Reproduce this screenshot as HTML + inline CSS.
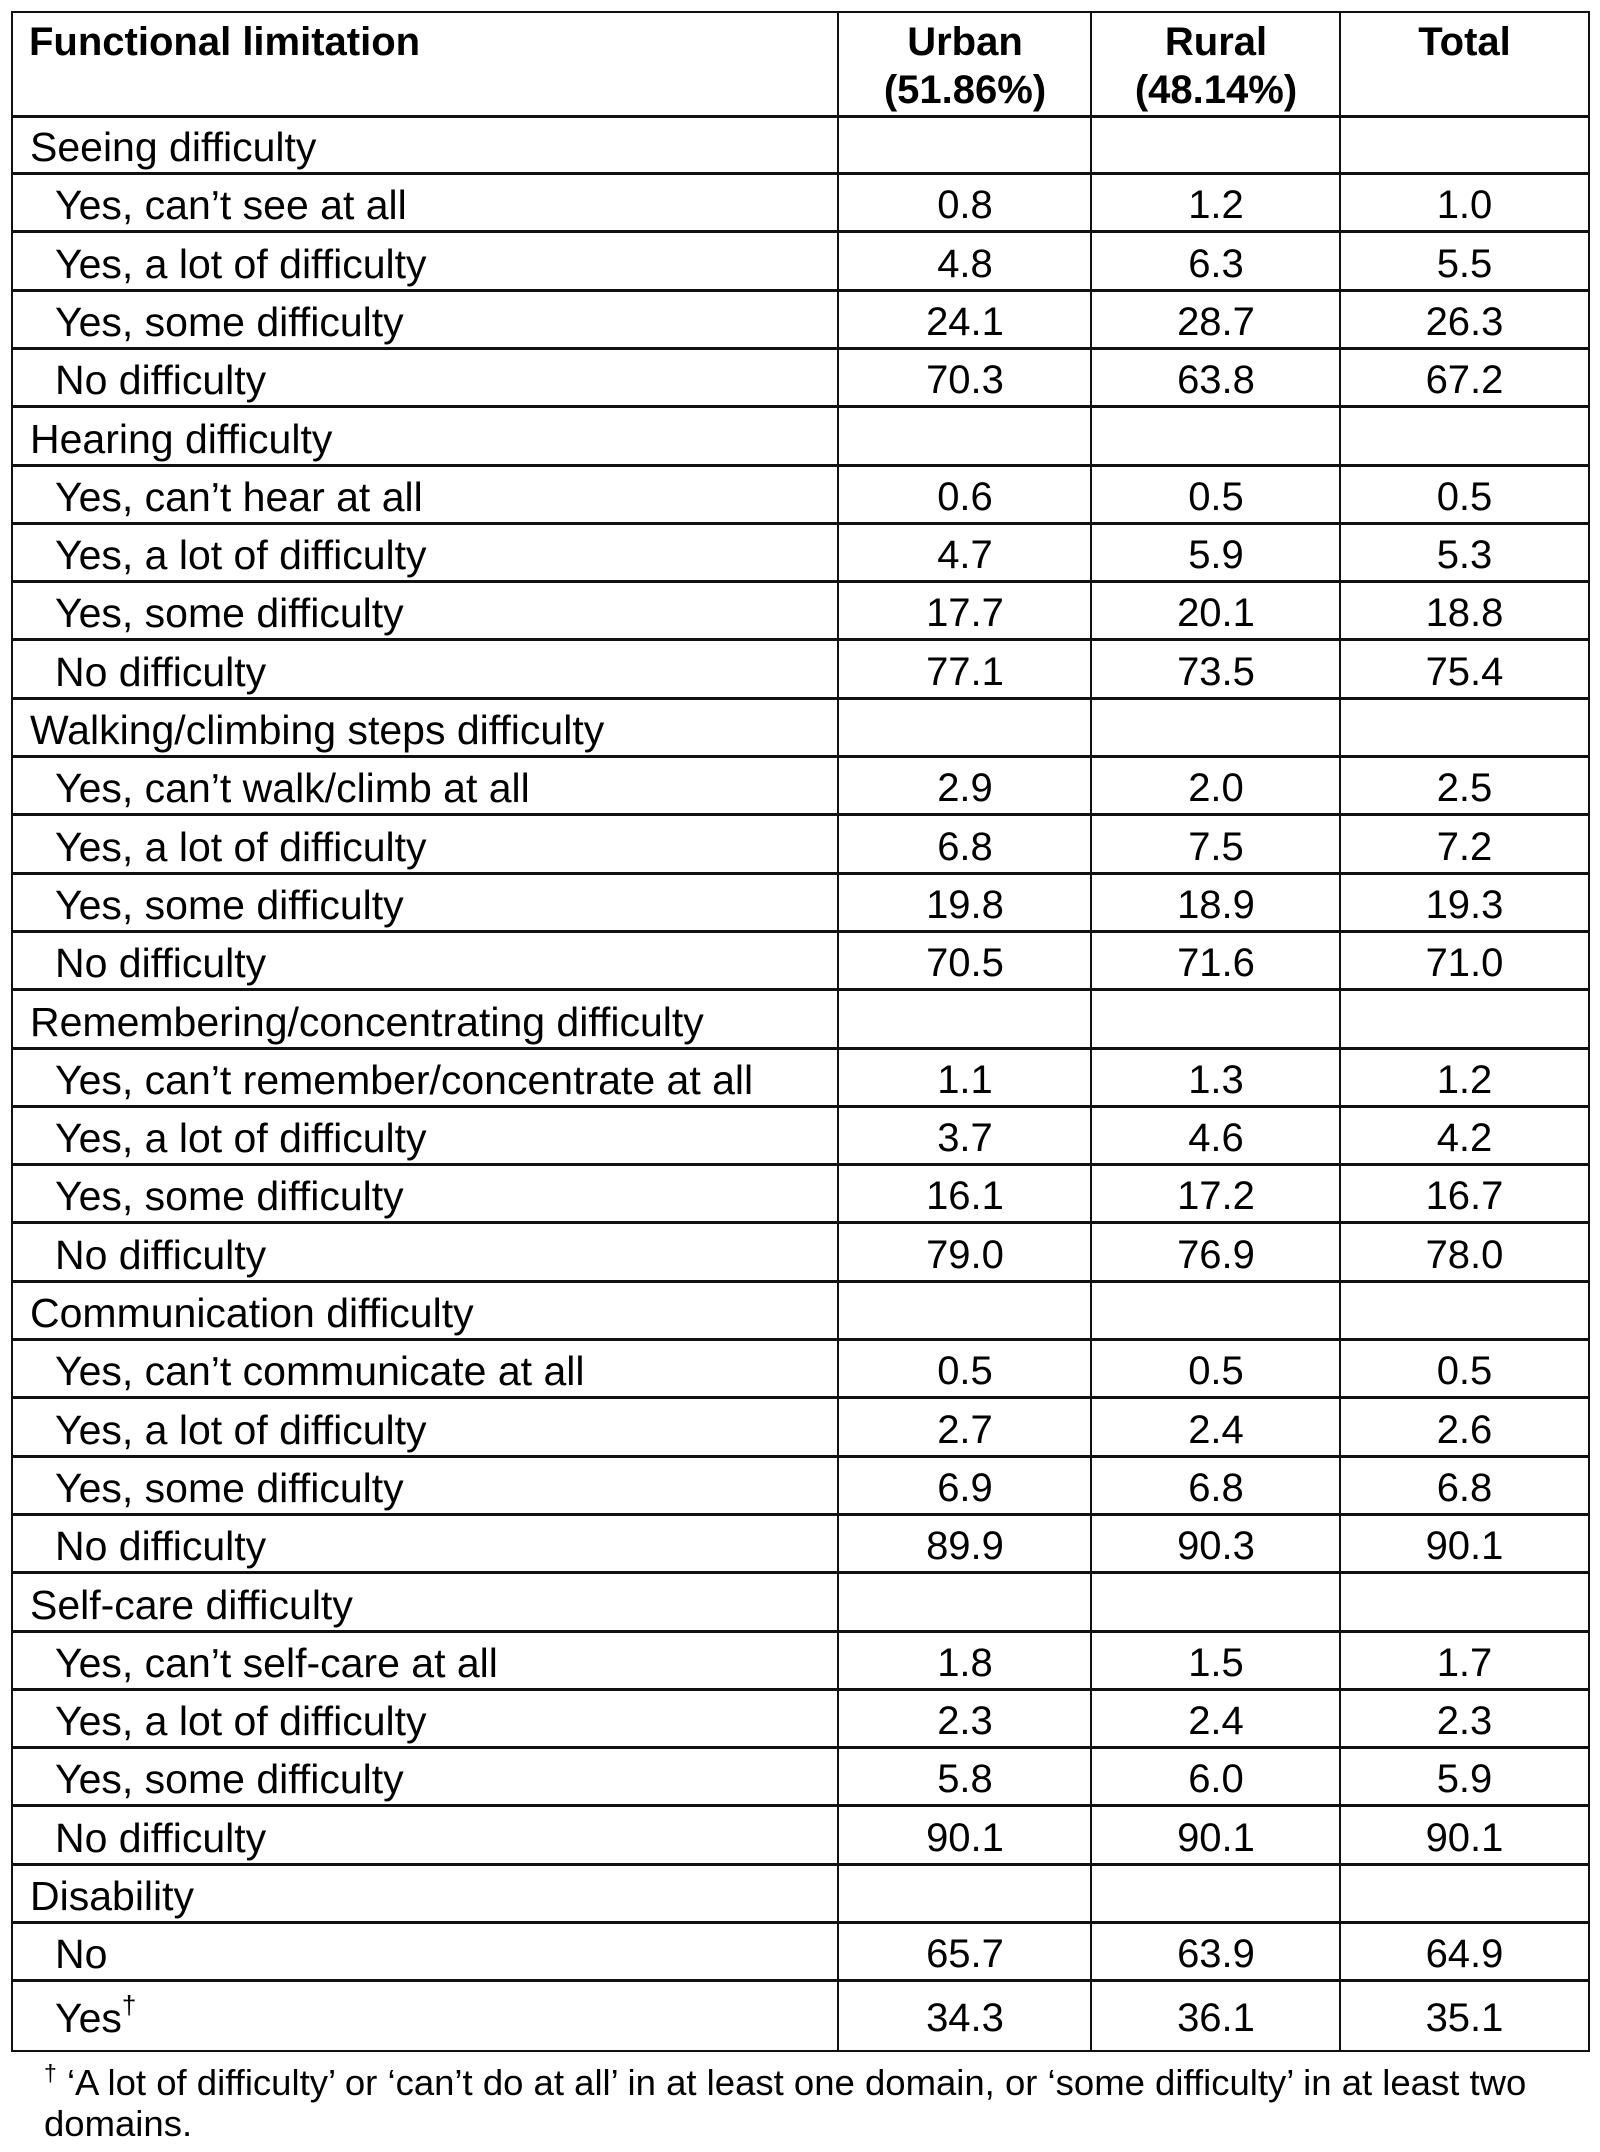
<!DOCTYPE html>
<html><head><meta charset="utf-8"><style>
body{margin:0;width:1600px;height:2152px;background:#fff;font-family:"Liberation Sans",Arial,sans-serif;color:#000;position:relative;overflow:hidden}
.r{position:absolute;left:12px;width:1577px;height:58px;line-height:60px;border-bottom:3px solid #111;box-sizing:border-box;font-size:40px}
.r span{position:absolute;top:0;white-space:nowrap}
.l{left:18px;font-size:41px}.i{left:43px;font-size:41px}
.c1,.c2,.c3{text-align:center}
.c1{left:826px;width:254px}.c2{left:1080px;width:248px}.c3{left:1328px;width:249px}
.v{position:absolute;top:12px;height:2040px;width:2px;background:#111}
.hd{font-weight:bold}
.ft{position:absolute;left:44px;top:2062px;font-size:36.5px;line-height:41px;width:1530px}
sup{line-height:0}
</style></head><body>
<div style="position:absolute;left:11px;top:11px;width:1579px;height:2041px;border:2px solid #111;box-sizing:border-box"></div>
<div class="v" style="left:837px"></div>
<div class="v" style="left:1090px"></div>
<div class="v" style="left:1339px"></div>
<div class="r hd" style="top:12px;height:106px;line-height:48px">
<span style="left:17px;top:6px">Functional limitation</span>
<span class="c1" style="top:6px">Urban<br>(51.86%)</span>
<span class="c2" style="top:6px">Rural<br>(48.14%)</span>
<span class="c3" style="top:6px">Total</span>
</div>
<div class="r" style="top:117px"><span class="l">Seeing difficulty</span></div>
<div class="r" style="top:175.3px"><span class="i">Yes, can’t see at all</span><span class="c1">0.8</span><span class="c2">1.2</span><span class="c3">1.0</span></div>
<div class="r" style="top:233.6px"><span class="i">Yes, a lot of difficulty</span><span class="c1">4.8</span><span class="c2">6.3</span><span class="c3">5.5</span></div>
<div class="r" style="top:291.9px"><span class="i">Yes, some difficulty</span><span class="c1">24.1</span><span class="c2">28.7</span><span class="c3">26.3</span></div>
<div class="r" style="top:350.2px"><span class="i">No difficulty</span><span class="c1">70.3</span><span class="c2">63.8</span><span class="c3">67.2</span></div>
<div class="r" style="top:408.5px"><span class="l">Hearing difficulty</span></div>
<div class="r" style="top:466.8px"><span class="i">Yes, can’t hear at all</span><span class="c1">0.6</span><span class="c2">0.5</span><span class="c3">0.5</span></div>
<div class="r" style="top:525.1px"><span class="i">Yes, a lot of difficulty</span><span class="c1">4.7</span><span class="c2">5.9</span><span class="c3">5.3</span></div>
<div class="r" style="top:583.4px"><span class="i">Yes, some difficulty</span><span class="c1">17.7</span><span class="c2">20.1</span><span class="c3">18.8</span></div>
<div class="r" style="top:641.7px"><span class="i">No difficulty</span><span class="c1">77.1</span><span class="c2">73.5</span><span class="c3">75.4</span></div>
<div class="r" style="top:700px"><span class="l">Walking/climbing steps difficulty</span></div>
<div class="r" style="top:758.3px"><span class="i">Yes, can’t walk/climb at all</span><span class="c1">2.9</span><span class="c2">2.0</span><span class="c3">2.5</span></div>
<div class="r" style="top:816.6px"><span class="i">Yes, a lot of difficulty</span><span class="c1">6.8</span><span class="c2">7.5</span><span class="c3">7.2</span></div>
<div class="r" style="top:874.9px"><span class="i">Yes, some difficulty</span><span class="c1">19.8</span><span class="c2">18.9</span><span class="c3">19.3</span></div>
<div class="r" style="top:933.2px"><span class="i">No difficulty</span><span class="c1">70.5</span><span class="c2">71.6</span><span class="c3">71.0</span></div>
<div class="r" style="top:991.5px"><span class="l">Remembering/concentrating difficulty</span></div>
<div class="r" style="top:1049.8px"><span class="i">Yes, can’t remember/concentrate at all</span><span class="c1">1.1</span><span class="c2">1.3</span><span class="c3">1.2</span></div>
<div class="r" style="top:1108.1px"><span class="i">Yes, a lot of difficulty</span><span class="c1">3.7</span><span class="c2">4.6</span><span class="c3">4.2</span></div>
<div class="r" style="top:1166.4px"><span class="i">Yes, some difficulty</span><span class="c1">16.1</span><span class="c2">17.2</span><span class="c3">16.7</span></div>
<div class="r" style="top:1224.7px"><span class="i">No difficulty</span><span class="c1">79.0</span><span class="c2">76.9</span><span class="c3">78.0</span></div>
<div class="r" style="top:1283px"><span class="l">Communication difficulty</span></div>
<div class="r" style="top:1341.3px"><span class="i">Yes, can’t communicate at all</span><span class="c1">0.5</span><span class="c2">0.5</span><span class="c3">0.5</span></div>
<div class="r" style="top:1399.6px"><span class="i">Yes, a lot of difficulty</span><span class="c1">2.7</span><span class="c2">2.4</span><span class="c3">2.6</span></div>
<div class="r" style="top:1457.9px"><span class="i">Yes, some difficulty</span><span class="c1">6.9</span><span class="c2">6.8</span><span class="c3">6.8</span></div>
<div class="r" style="top:1516.2px"><span class="i">No difficulty</span><span class="c1">89.9</span><span class="c2">90.3</span><span class="c3">90.1</span></div>
<div class="r" style="top:1574.5px"><span class="l">Self-care difficulty</span></div>
<div class="r" style="top:1632.8px"><span class="i">Yes, can’t self-care at all</span><span class="c1">1.8</span><span class="c2">1.5</span><span class="c3">1.7</span></div>
<div class="r" style="top:1691.1px"><span class="i">Yes, a lot of difficulty</span><span class="c1">2.3</span><span class="c2">2.4</span><span class="c3">2.3</span></div>
<div class="r" style="top:1749.4px"><span class="i">Yes, some difficulty</span><span class="c1">5.8</span><span class="c2">6.0</span><span class="c3">5.9</span></div>
<div class="r" style="top:1807.7px"><span class="i">No difficulty</span><span class="c1">90.1</span><span class="c2">90.1</span><span class="c3">90.1</span></div>
<div class="r" style="top:1866px"><span class="l">Disability</span></div>
<div class="r" style="top:1924.3px"><span class="i">No</span><span class="c1">65.7</span><span class="c2">63.9</span><span class="c3">64.9</span></div>
<div class="r" style="top:1982.6px;height:69px;line-height:70px;border-bottom:none"><span class="i">Yes<sup style="font-size:26px;vertical-align:18px">†</sup></span><span class="c1">34.3</span><span class="c2">36.1</span><span class="c3">35.1</span></div>
<div class="ft"><sup style="font-size:23px;vertical-align:14px">†</sup> ‘A lot of difficulty’ or ‘can’t do at all’ in at least one domain, or ‘some difficulty’ in at least two domains.</div>
</body></html>
